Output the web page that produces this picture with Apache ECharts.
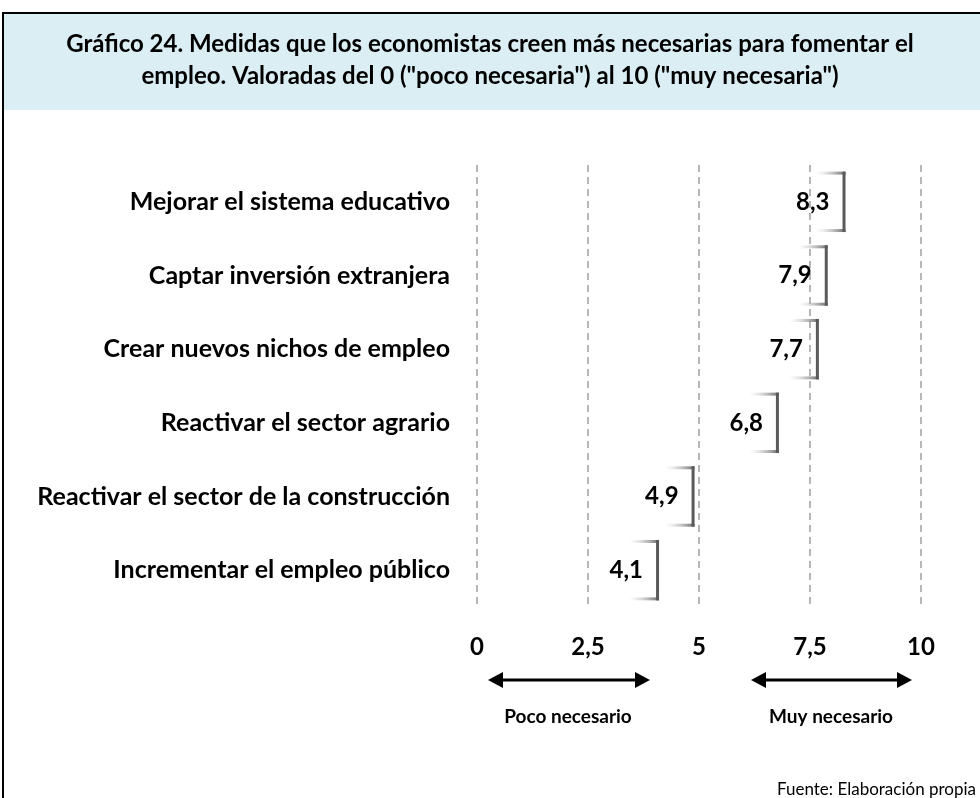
<!DOCTYPE html>
<html>
<head>
<meta charset="utf-8">
<script src="https://cdn.jsdelivr.net/npm/echarts@6/dist/echarts.min.js"></script>
<style>
  html, body { margin: 0; padding: 0; background: #fff; }
  #main { width: 980px; height: 798px; }
</style>
</head>
<body>
<div id="main"></div>
<script>
var medidas = [
    'Mejorar el sistema educativo',
    'Captar inversión extranjera',
    'Crear nuevos nichos de empleo',
    'Reactivar el sector agrario',
    'Reactivar el sector de la construcción',
    'Incrementar el empleo público'
];
var valoracion = [8.3, 7.9, 7.7, 6.8, 4.9, 4.1];
var ticks = [0, 2.5, 5, 7.5, 10];

var fuente = 'Lato, "Noto Sans", sans-serif';
var myChart = echarts.init(document.getElementById('main'));

function coma(v) {
    return String(v).replace('.', ',');
}

// dibuja el corchete al final de cada barra
function renderCorchete(params, api) {
    var p = api.coord([api.value(0), api.value(1)]);
    var h = api.size([0, 1])[1] * 0.82;
    var x = p[0], y = p[1];
    var brazo = {
        type: 'linear', x: 0, y: 0, x2: 1, y2: 0,
        colorStops: [{ offset: 0, color: 'rgba(210,210,210,0)' }, { offset: 1, color: '#666' }]
    };
    return {
        type: 'group',
        children: [
            { type: 'rect', shape: { x: x - 30, y: y - h / 2, width: 30, height: 3 }, style: { fill: brazo } },
            { type: 'rect', shape: { x: x - 30, y: y + h / 2 - 3, width: 30, height: 3 }, style: { fill: brazo } },
            { type: 'rect', shape: { x: x - 3, y: y - h / 2, width: 3, height: h }, style: { fill: '#5a5a5a' } },
            {
                type: 'text',
                x: x - 16, y: y,
                style: {
                    text: coma(api.value(0)),
                    align: 'right', verticalAlign: 'middle',
                    font: 'bold 24px ' + fuente, fill: '#000'
                }
            }
        ]
    };
}

function flecha(x1, x2, y) {
    return [
        { type: 'line', shape: { x1: x1 + 10, y1: y, x2: x2 - 10, y2: y }, style: { stroke: '#000', lineWidth: 3 } },
        { type: 'polygon', shape: { points: [[x1, y], [x1 + 15, y - 8], [x1 + 15, y + 8]] }, style: { fill: '#000' } },
        { type: 'polygon', shape: { points: [[x2, y], [x2 - 15, y - 8], [x2 - 15, y + 8]] }, style: { fill: '#000' } }
    ];
}

var graficos = [
    { type: 'rect', shape: { x: 3, y: 13, width: 990, height: 800 }, style: { fill: '#fff', stroke: '#000', lineWidth: 2 }, z: -10 },
    { type: 'rect', shape: { x: 4, y: 14, width: 980, height: 96 }, style: { fill: '#DBEEF4' }, z: -9 },
    {
        type: 'text', x: 490, y: 44,
        style: { text: 'Gráfico 24. Medidas que los economistas creen más necesarias para fomentar el', align: 'center', verticalAlign: 'middle', font: 'bold 24px ' + fuente, fill: '#000' }
    },
    {
        type: 'text', x: 490, y: 76,
        style: { text: 'empleo. Valoradas del 0 ("poco necesaria") al 10 ("muy necesaria")', align: 'center', verticalAlign: 'middle', font: 'bold 24px ' + fuente, fill: '#000' }
    },
    {
        type: 'text', x: 568, y: 717,
        style: { text: 'Poco necesario', align: 'center', verticalAlign: 'middle', font: 'bold 19px ' + fuente, fill: '#000' }
    },
    {
        type: 'text', x: 831, y: 717,
        style: { text: 'Muy necesario', align: 'center', verticalAlign: 'middle', font: 'bold 19px ' + fuente, fill: '#000' }
    },
    {
        type: 'text', x: 777, y: 790,
        style: { text: 'Fuente: Elaboración propia', align: 'left', verticalAlign: 'middle', font: '17px ' + fuente, fill: '#000' }
    }
].concat(flecha(488, 650, 680)).concat(flecha(751, 912, 680));

var option = {
    backgroundColor: '#fff',
    animation: false,
    graphic: graficos,
    grid: { left: 477, right: 59, top: 165, bottom: 191 },
    xAxis: {
        type: 'value',
        min: 0,
        max: 10,
        interval: 2.5,
        axisLine: { show: false },
        axisTick: { show: false },
        axisLabel: {
            margin: 28,
            color: '#000',
            fontFamily: fuente,
            fontWeight: 'bold',
            fontSize: 24,
            formatter: function (v) { return ticks.indexOf(v) >= 0 ? coma(v) : ''; }
        },
        splitLine: { lineStyle: { color: '#a0a0a0', width: 1.5, type: [7, 5] } }
    },
    yAxis: {
        type: 'category',
        inverse: true,
        data: medidas,
        axisLine: { show: false },
        axisTick: { show: false },
        axisLabel: {
            margin: 27,
            color: '#000',
            fontFamily: fuente,
            fontWeight: 'bold',
            fontSize: 25
        }
    },
    series: [{
        type: 'custom',
        renderItem: renderCorchete,
        encode: { x: 0, y: 1 },
        data: valoracion.map(function (v, i) { return [v, i]; })
    }]
};
myChart.setOption(option);
</script>
</body>
</html>
